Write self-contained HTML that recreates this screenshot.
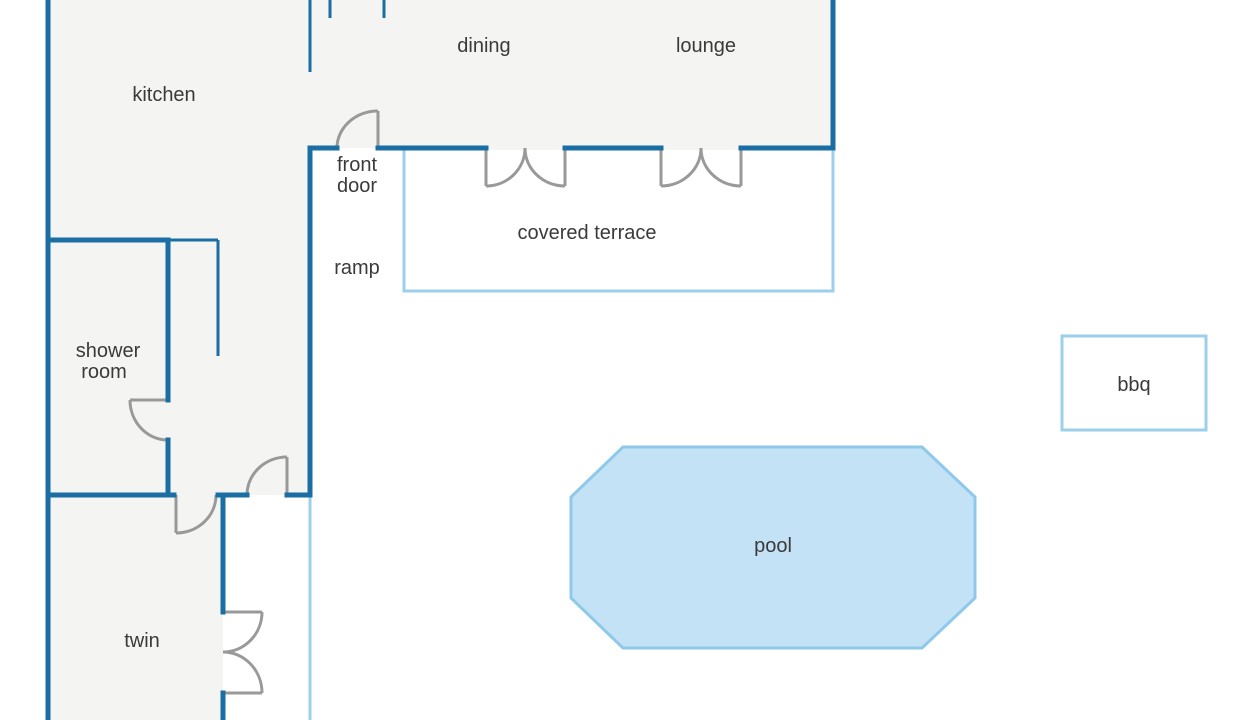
<!DOCTYPE html>
<html><head><meta charset="utf-8"><style>
html,body{margin:0;padding:0;background:#fff;}
svg{display:block}
text{font-family:"Liberation Sans","DejaVu Sans",sans-serif;font-size:20px;fill:#3a3a3a;text-anchor:middle}
</style></head><body>
<svg width="1236" height="720" viewBox="0 0 1236 720">
<g fill="#f4f4f3">
<rect x="48" y="0" width="262" height="495"/>
<rect x="310" y="0" width="523" height="148"/>
<rect x="48" y="495" width="175" height="225"/>
</g>
<g fill="none" stroke="#9bcfeb" stroke-width="3">
<rect x="404" y="148" width="429" height="143"/>
<rect x="1062" y="336" width="144" height="94"/>
<line x1="310" y1="495" x2="310" y2="720"/>
</g>
<g fill="#f4f4f3">
<rect x="486" y="145" width="79" height="5"/>
<rect x="661" y="145" width="80" height="5"/>
</g>
<polygon points="623,447 922,447 975,497 975,598 922,648 623,648 571,598 571,497" fill="#c3e2f6" stroke="#8fc9ea" stroke-width="3"/>
<g fill="none" stroke="#999" stroke-width="3">
<line x1="378" y1="111" x2="378" y2="148"/><path d="M378 111 A41 37 0 0 0 337 148"/>
<line x1="486" y1="148" x2="486" y2="186"/><path d="M486 186 A39 38 0 0 0 525 148"/>
<line x1="565" y1="148" x2="565" y2="186"/><path d="M565 186 A40 38 0 0 1 525 148"/>
<line x1="661" y1="148" x2="661" y2="186"/><path d="M661 186 A40 38 0 0 0 701 148"/>
<line x1="741" y1="148" x2="741" y2="186"/><path d="M741 186 A40 38 0 0 1 701 148"/>
<line x1="130" y1="400" x2="168" y2="400"/><path d="M130 400 A38 40 0 0 0 168 440"/>
<line x1="176" y1="495" x2="176" y2="533"/><path d="M176 533 A40 38 0 0 0 216 495"/>
<line x1="287" y1="457" x2="287" y2="495"/><path d="M287 457 A40 38 0 0 0 247 495"/>
<line x1="223" y1="612" x2="262" y2="612"/><path d="M262 612 A39 40 0 0 1 223 652"/>
<line x1="223" y1="693" x2="262" y2="693"/><path d="M262 693 A39 41 0 0 0 223 652"/>
</g>
<g stroke="#1a6ea3" stroke-width="5" fill="none" stroke-linecap="square">
<line x1="48" y1="0" x2="48" y2="720"/>
<line x1="833" y1="0" x2="833" y2="148"/>
<line x1="310" y1="148" x2="337" y2="148"/>
<line x1="378" y1="148" x2="486" y2="148"/>
<line x1="565" y1="148" x2="661" y2="148"/>
<line x1="741" y1="148" x2="833" y2="148"/>
<line x1="310" y1="148" x2="310" y2="495"/>
<line x1="48" y1="240" x2="168" y2="240"/>
<line x1="168" y1="240" x2="168" y2="400"/>
<line x1="168" y1="440" x2="168" y2="495"/>
<line x1="48" y1="495" x2="174" y2="495"/>
<line x1="218" y1="495" x2="247" y2="495"/>
<line x1="287" y1="495" x2="310" y2="495"/>
<line x1="223" y1="495" x2="223" y2="612"/>
<line x1="223" y1="693" x2="223" y2="720"/>
</g>
<g stroke="#1a6ea3" stroke-width="3" fill="none">
<line x1="310" y1="0" x2="310" y2="72"/>
<line x1="330" y1="0" x2="330" y2="18"/>
<line x1="384" y1="0" x2="384" y2="18"/>
<line x1="168" y1="240" x2="218" y2="240"/>
<line x1="218" y1="240" x2="218" y2="356"/>
</g>
<text x="164" y="101">kitchen</text>
<text x="484" y="52">dining</text>
<text x="706" y="52">lounge</text>
<text x="357" y="171">front</text>
<text x="357" y="192">door</text>
<text x="357" y="274">ramp</text>
<text x="587" y="239">covered terrace</text>
<text x="108" y="357">shower</text>
<text x="104" y="378">room</text>
<text x="1134" y="391">bbq</text>
<text x="773" y="552">pool</text>
<text x="142" y="647">twin</text>
</svg>
</body></html>
